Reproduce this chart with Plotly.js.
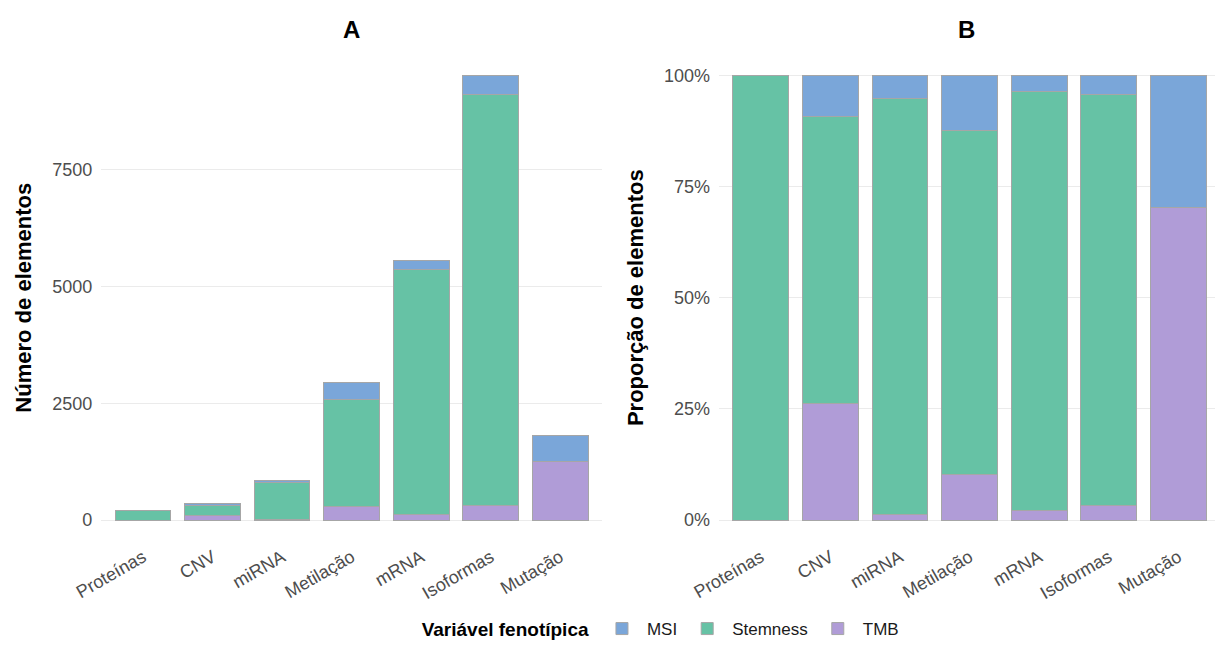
<!DOCTYPE html>
<html>
<head>
<meta charset="utf-8">
<script src="https://cdn.plot.ly/plotly-3.0.1.min.js"></script>
<style>html,body{margin:0;padding:0;background:#fff;}#chart{width:1215px;height:647px;}</style>
</head>
<body>
<div id="chart"></div>
<script>
const categories = ["Proteínas", "CNV", "miRNA", "Metilação", "mRNA", "Isoformas", "Mutação"];
const msi = [0, 33, 45, 365, 200, 410, 535];
const stemness = [215, 229, 793, 2280, 5247, 8789, 0];
const tmb = [0, 93, 10, 300, 115, 318, 1265];
const seriesNames = ["TMB", "Stemness", "MSI"];
const seriesColors = {"MSI": "#7aa6d9", "Stemness": "#66c2a5", "TMB": "#b09cd7"};
const countTicks = [0, 2500, 5000, 7500];
const pctTicks = [0, 25, 50, 75, 100];

const seriesData = {"TMB": tmb, "Stemness": stemness, "MSI": msi};
const totals = categories.map((c, i) => msi[i] + stemness[i] + tmb[i]);

const FONT = "Liberation Sans, Arial, sans-serif";
const traces = [];
seriesNames.forEach(name => {
  const vals = seriesData[name];
  traces.push({
    type: "bar", x: categories, y: vals, name: name,
    marker: {color: seriesColors[name], line: {color: "#a6a6a6", width: 1}},
    width: 0.8, xaxis: "x", yaxis: "y", showlegend: true, legendgroup: name,
    hoverinfo: "skip"
  });
  traces.push({
    type: "bar", x: categories, y: vals.map((v, i) => 100 * v / totals[i]), name: name,
    marker: {color: seriesColors[name], line: {color: "#a6a6a6", width: 1}},
    width: 0.8, xaxis: "x2", yaxis: "y2", showlegend: false, legendgroup: name,
    hoverinfo: "skip"
  });
});

const tickFont = {family: FONT, size: 18, color: "#4d4d4d"};
const yTop = 1 - 53.5 / 647, yBot = 1 - 547.5 / 647;

const layout = {
  width: 1215, height: 647,
  margin: {l: 0, r: 0, t: 0, b: 0},
  paper_bgcolor: "#ffffff", plot_bgcolor: "#ffffff",
  barmode: "stack",
  font: {family: FONT, color: "#000"},
  showlegend: true,
  legend: {
    orientation: "h", x: 0.545, xanchor: "center", y: 1 - 635 / 647, yanchor: "middle",
    title: {text: "<b>Variável fenotípica</b>", font: {family: FONT, size: 19, color: "#000"}, side: "left"},
    font: {family: FONT, size: 17, color: "#1a1a1a"},
    traceorder: "reversed", itemwidth: 40
  },
  xaxis: {
    domain: [101.3 / 1215, 602 / 1215], type: "category", range: [-0.6, 6.6],
    showgrid: false, zeroline: false, showline: false, ticks: "",
    tickangle: -30, tickfont: tickFont
  },
  yaxis: {
    domain: [yBot, yTop], range: [-476, 9990], tickvals: countTicks,
    ticktext: countTicks.map(String),
    showgrid: true, gridcolor: "#ebebeb", gridwidth: 1.1, zeroline: false, showline: false,
    ticks: "", tickfont: tickFont, ticklabelstandoff: 8,
    title: {text: "<b>Número de elementos</b>", font: {family: FONT, size: 22, color: "#000"}, standoff: 14}
  },
  xaxis2: {
    domain: [719 / 1215, 1], type: "category", range: [-0.6, 6.526], anchor: "y2",
    showgrid: false, zeroline: false, showline: false, ticks: "",
    tickangle: -30, tickfont: tickFont
  },
  yaxis2: {
    domain: [yBot, yTop], range: [-5, 105], anchor: "x2", tickvals: pctTicks,
    ticktext: pctTicks.map(v => v + "%"),
    showgrid: true, gridcolor: "#ebebeb", gridwidth: 1.1, zeroline: false, showline: false,
    ticks: "", tickfont: tickFont, ticklabelstandoff: 8,
    title: {text: "<b>Proporção de elementos</b>", font: {family: FONT, size: 22, color: "#000"}, standoff: 14}
  },
  annotations: [
    {text: "<b>A</b>", x: 351.6 / 1215, y: 1 - 30 / 647, xref: "paper", yref: "paper",
     showarrow: false, font: {family: FONT, size: 24, color: "#000"}, xanchor: "center", yanchor: "middle"},
    {text: "<b>B</b>", x: 967 / 1215, y: 1 - 30 / 647, xref: "paper", yref: "paper",
     showarrow: false, font: {family: FONT, size: 24, color: "#000"}, xanchor: "center", yanchor: "middle"}
  ]
};

Plotly.newPlot("chart", traces, layout, {staticPlot: true, displayModeBar: false});
</script>
</body>
</html>
